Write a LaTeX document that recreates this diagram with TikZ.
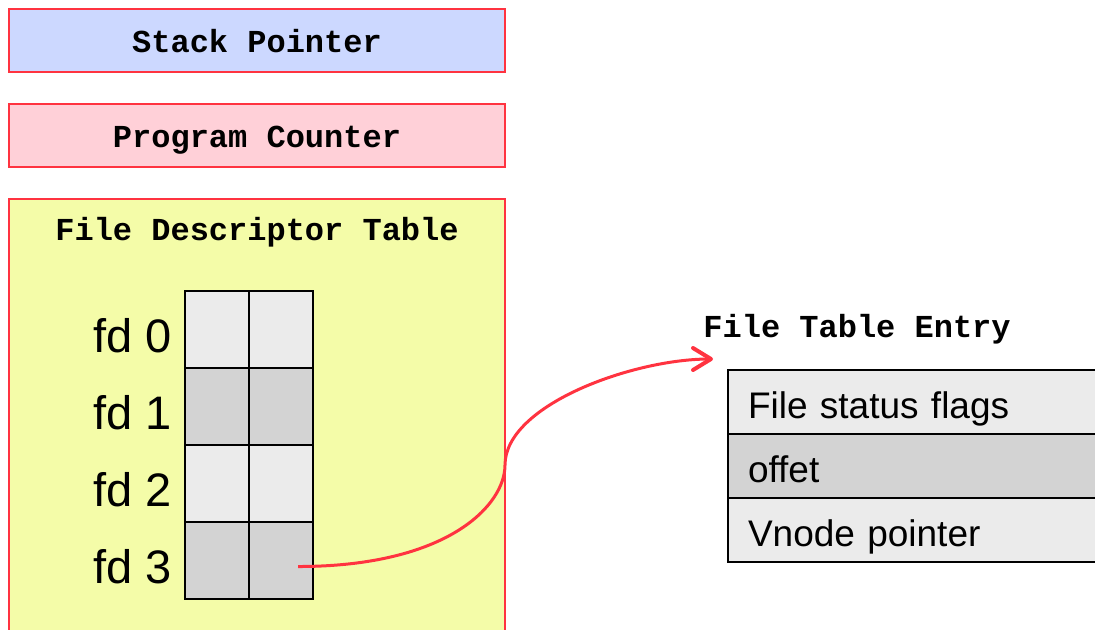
\documentclass[tikz,border=0pt]{standalone}
\usepackage{fontspec}
\setsansfont{Liberation Sans}
\setmonofont{Liberation Mono}
\usepackage{tikz}
\usetikzlibrary{arrows.meta, positioning, calc}

\definecolor{spblue}{RGB}{204,216,255}
\definecolor{pcpink}{RGB}{255,208,216}
\definecolor{fdtyellow}{RGB}{244,252,168}
\definecolor{boxred}{RGB}{255,51,64}
\definecolor{slotlight}{RGB}{235,235,235}
\definecolor{slotdark}{RGB}{211,211,211}

\begin{document}
\begin{tikzpicture}[
                regbox/.style={draw=boxred, line width=1.2pt, minimum width=248pt, minimum height=31.5pt,
                               outer sep=0pt, text height=12pt, text depth=0pt,
                               font=\ttfamily\bfseries\fontsize{16pt}{18pt}\selectfont},
                title/.style={inner sep=0pt, font=\ttfamily\bfseries\fontsize{16pt}{18pt}\selectfont},
                slot/.style={draw, line width=1.4pt, minimum width=32pt, minimum height=38.5pt,
                             inner sep=0pt, outer sep=0pt},
                fdlabel/.style={inner sep=0pt, text height=22.5pt, text depth=0pt,
                                font=\sffamily\fontsize{23.5pt}{26pt}\selectfont},
                field/.style={draw, line width=1.4pt, minimum width=191pt, minimum height=32pt,
                              text width=171pt, inner xsep=10pt, outer sep=0pt, align=left,
                              text height=18pt, text depth=1.5pt,
                              font=\sffamily\fontsize{18.5pt}{22pt}\selectfont},
                pointer/.style={-{Straight Barb[length=9pt, width=11pt, round, line width=2pt]},
                                line width=1.5pt, boxred}]

                \useasboundingbox (0pt,0pt) rectangle (547.5pt,-314.5pt);

                % Process state: registers and the descriptor table
                \node[regbox, fill=spblue] (sp) at (128.5pt,-20.25pt) {Stack Pointer};
                \node[regbox, fill=pcpink, below=16pt of sp] (pc) {Program Counter};
                \node[regbox, fill=fdtyellow, below=16pt of pc, minimum height=225pt] (fdt) {};
                \node[title, anchor=base] (fdttitle) at ([yshift=-20.8pt]fdt.north)
                    {File Descriptor Table};

                % Descriptor slots, two cells per row
                \node[slot, fill=slotlight, anchor=north west] (s00) at ([xshift=88pt, yshift=-46pt]fdt.north west) {};
                \node[slot, fill=slotlight, right=0pt of s00] (s01) {};
                \node[slot, fill=slotdark, below=0pt of s00] (s10) {};
                \node[slot, fill=slotdark, right=0pt of s10] (s11) {};
                \node[slot, fill=slotlight, below=0pt of s10] (s20) {};
                \node[slot, fill=slotlight, right=0pt of s20] (s21) {};
                \node[slot, fill=slotdark, below=0pt of s20] (s30) {};
                \node[slot, fill=slotdark, right=0pt of s30] (s31) {};

                \node[fdlabel, left=6.5pt of s00] (fd0) {fd 0};
                \node[fdlabel, left=6.5pt of s10] (fd1) {fd 1};
                \node[fdlabel, left=6.5pt of s20] (fd2) {fd 2};
                \node[fdlabel, left=6.5pt of s30] (fd3) {fd 3};

                % Open file table entry
                \node[field, fill=slotlight, anchor=north west] (fte1) at (364pt,-185pt) {File status flags};
                \node[field, fill=slotdark, below=0pt of fte1] (fte2) {offet};
                \node[field, fill=slotlight, below=0pt of fte2] (fte3) {Vnode pointer};
                \node[title, anchor=base west] (ftetitle) at ([xshift=-12.5pt, yshift=16.5pt]fte1.north west)
                    {File Table Entry};

                % fd 3 points at the entry
                \coordinate (fd3ptr) at ([xshift=8.5pt, yshift=-3pt]s31.center);
                \coordinate (bend) at (fdt.east |- 0,-232.5pt);
                \coordinate (fteptr) at ([xshift=-7.5pt, yshift=5.5pt]fte1.north west);
                \draw[pointer] (fd3ptr) .. controls +(75pt,0pt) and +(0pt,-20pt) .. (bend)
                    .. controls +(0pt,30pt) and +(-40pt,0pt) .. (fteptr);
            \end{tikzpicture}
\end{document}
